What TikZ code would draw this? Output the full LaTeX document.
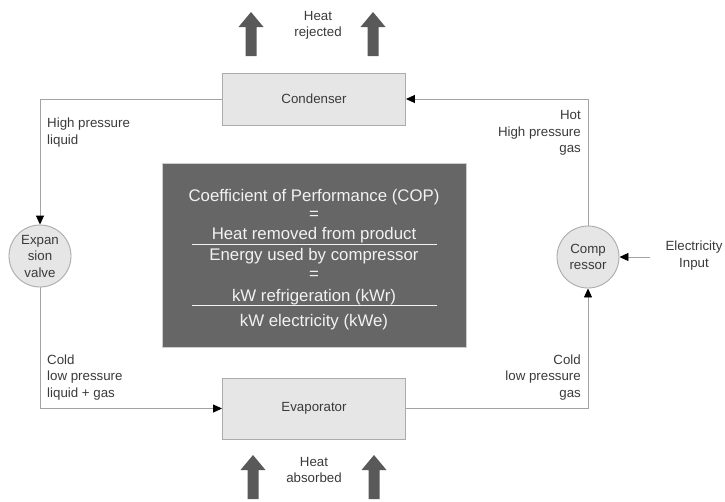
\documentclass[tikz,border=0pt]{standalone}
\usepackage{fontspec}
\setmainfont{Liberation Sans}
\usetikzlibrary{arrows.meta}
\definecolor{linegray}{HTML}{A3A3A3}
\definecolor{boxfill}{HTML}{E6E6E6}
\definecolor{boxedge}{HTML}{ABABAB}
\definecolor{panel}{HTML}{666666}
\definecolor{panelfg}{HTML}{F2F2F2}
\definecolor{heatgray}{HTML}{595959}
\definecolor{txt}{HTML}{3A3A3A}
\tikzset{
  unit/.style={fill=boxfill, draw=boxedge, line width=0.9pt, text=txt,
    font=\fontsize{13.3}{16.5}\selectfont, inner sep=0pt},
  block/.style={unit, rectangle, minimum width=183pt},
  valve/.style={unit, circle, minimum size=62pt, align=center},
  flow/.style={draw=linegray, line width=0.9pt,
    -{Triangle[length=9pt,width=8pt,fill=black,color=black]}},
  note/.style={text=txt, font=\fontsize{13.3}{16.5}\selectfont, inner sep=0pt},
  formula/.style={text=panelfg, font=\fontsize{16.8}{20}\selectfont, inner sep=0pt},
  pics/heatarrow/.style={code={
    \fill[heatgray] (-5.5,0) -- (-5.5,-29) -- (-12.5,-29) -- (0,-44)
      -- (12.5,-29) -- (5.5,-29) -- (5.5,0) -- cycle;}}
}
\begin{document}
\begin{tikzpicture}[x=1pt,y=-1pt]
\useasboundingbox (0,0) rectangle (725,501);

% main components
\node[block, minimum height=52pt] (cond) at (314,99) {Condenser};
\node[block, minimum height=61pt] (evap) at (314,408.5) {Evaporator};
\node[valve] (exp) at (40,256) {Expan\\sion\\valve};
\node[valve] (comp) at (588,257) {Comp\\ressor};

% refrigerant circuit
\draw[flow] (cond.west) -| (exp.north);
\draw[flow] (exp.south) |- (evap.west);
\draw[flow] (evap.east) -| (comp.south);
\draw[flow] (comp.north) |- (cond.east);

% electrical input
\coordinate (elec) at (650,257);
\draw[flow] (elec) -- (comp.east);
\node[note, align=center] (elecl) at (694,255.5) {Electricity\\Input};

% state labels
\node[note, align=left, anchor=west] (hpl) at (47,132.5) {High pressure\\liquid};
\node[note, align=right, anchor=east] (hhg) at (581,133) {Hot\\High pressure\\gas};
\node[note, align=left, anchor=west] (clg) at (47,377.5) {Cold\\low pressure\\liquid + gas};
\node[note, align=right, anchor=east] (clp) at (581,377.5) {Cold\\low pressure\\gas};

% heat flows
\pic at (251,56) {heatarrow};
\pic at (373,56) {heatarrow};
\node[note, align=center] (rej) at (318,25.5) {Heat\\rejected};
\pic at (253,499) {heatarrow};
\pic at (374,499) {heatarrow};
\node[note, align=center] (abs) at (314,470) {Heat\\absorbed};

% COP panel
\node[fill=panel, draw=boxedge!60, line width=0.8pt, minimum width=304pt,
  minimum height=184pt, inner sep=0pt] (cop) at (314,255) {};
\node[formula] (l1) at (314,197) {Coefficient of Performance (COP)};
\node[formula] (l2) at (314,215) {=};
\node[formula] (l3) at (314,235) {Heat removed from product};
\node[formula] (l4) at (314,256) {Energy used by compressor};
\node[formula] (l5) at (314,275) {=};
\node[formula] (l6) at (314,297) {kW refrigeration (kWr)};
\node[formula] (l7) at (314,322) {kW electricity (kWe)};
\draw[panelfg, line width=0.9pt] (192,244) -- (437,244);
\draw[panelfg, line width=0.9pt] (192,305) -- (437,305);
\end{tikzpicture}
\end{document}
